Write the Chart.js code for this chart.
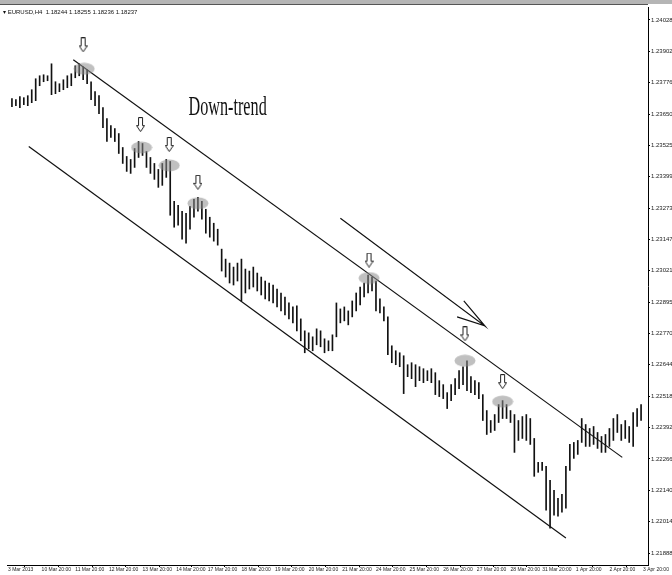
<!DOCTYPE html>
<html>
<head>
<meta charset="utf-8">
<script src="https://cdn.jsdelivr.net/npm/chart.js@4/dist/chart.umd.min.js"></script>
<style>
  html, body { margin: 0; padding: 0; background: #fff; }
  #wrap { width: 672px; height: 575px; }
</style>
</head>
<body>
<div id="wrap"><canvas id="chart" width="672" height="575"></canvas></div>
<script>
// H4 bars, high / low per bar (price)
const highs = [
  1.23712,1.23708,1.23720,1.23716,1.23724,1.23748,1.23792,1.23804,1.23808,1.23804,
  1.23852,1.23780,1.23772,1.23788,1.23804,1.23812,1.23844,1.23852,1.23840,1.23828,
  1.23780,1.23740,1.23724,1.23676,1.23632,1.23604,1.23592,1.23572,1.23516,1.23480,
  1.23468,1.23512,1.23540,1.23532,1.23500,1.23476,1.23452,1.23428,1.23452,1.23468,
  1.23460,1.23300,1.23284,1.23260,1.23252,1.23280,1.23308,1.23316,1.23300,1.23268,
  1.23236,1.23212,1.23188,1.23108,1.23068,1.23052,1.23036,1.23052,1.23068,1.23028,
  1.23020,1.23036,1.23012,1.22996,1.22980,1.22972,1.22964,1.22948,1.22932,1.22916,
  1.22892,1.22876,1.22880,1.22828,1.22780,1.22772,1.22756,1.22788,1.22780,1.22748,
  1.22740,1.22764,1.22892,1.22868,1.22876,1.22860,1.22900,1.22932,1.22956,1.22972,
  1.23004,1.22996,1.22980,1.22908,1.22876,1.22836,1.22720,1.22700,1.22692,1.22680,
  1.22644,1.22652,1.22644,1.22636,1.22628,1.22620,1.22628,1.22612,1.22580,1.22564,
  1.22532,1.22564,1.22588,1.22620,1.22636,1.22660,1.22596,1.22580,1.22572,1.22524,
  1.22460,1.22420,1.22444,1.22484,1.22500,1.22484,1.22460,1.22444,1.22420,1.22436,
  1.22444,1.22428,1.22348,1.22252,1.22252,1.22236,1.22180,1.22140,1.22108,1.22124,
  1.22236,1.22324,1.22332,1.22340,1.22428,1.22404,1.22388,1.22396,1.22372,1.22356,
  1.22364,1.22388,1.22428,1.22444,1.22404,1.22420,1.22396,1.22452,1.22468,1.22484
];
const lows = [
  1.23680,1.23684,1.23676,1.23688,1.23684,1.23696,1.23704,1.23764,1.23780,1.23784,
  1.23728,1.23732,1.23740,1.23748,1.23756,1.23764,1.23796,1.23804,1.23788,1.23772,
  1.23708,1.23684,1.23652,1.23596,1.23540,1.23556,1.23540,1.23492,1.23452,1.23420,
  1.23412,1.23436,1.23476,1.23484,1.23436,1.23412,1.23388,1.23356,1.23364,1.23396,
  1.23244,1.23196,1.23204,1.23148,1.23132,1.23188,1.23236,1.23260,1.23228,1.23172,
  1.23156,1.23140,1.23124,1.23020,1.22996,1.22972,1.22964,1.22980,1.22900,1.22932,
  1.22948,1.22956,1.22940,1.22924,1.22908,1.22900,1.22892,1.22876,1.22860,1.22844,
  1.22828,1.22812,1.22780,1.22740,1.22692,1.22708,1.22700,1.22724,1.22716,1.22692,
  1.22700,1.22700,1.22756,1.22812,1.22820,1.22804,1.22836,1.22860,1.22884,1.22916,
  1.22932,1.22940,1.22860,1.22852,1.22820,1.22684,1.22652,1.22644,1.22636,1.22528,
  1.22596,1.22588,1.22556,1.22580,1.22572,1.22580,1.22572,1.22524,1.22516,1.22508,
  1.22468,1.22500,1.22524,1.22548,1.22564,1.22540,1.22532,1.22524,1.22508,1.22420,
  1.22364,1.22372,1.22380,1.22412,1.22428,1.22428,1.22412,1.22292,1.22340,1.22348,
  1.22340,1.22324,1.22196,1.22212,1.22220,1.22060,1.21988,1.22040,1.22036,1.22052,
  1.22068,1.22220,1.22268,1.22284,1.22332,1.22316,1.22316,1.22324,1.22308,1.22292,
  1.22292,1.22316,1.22340,1.22372,1.22340,1.22348,1.22332,1.22316,1.22396,1.22420
];

// hand-drawn trend channel and the arrow above it (bar index, price)
const upperLine = [{x: 15.5, y: 1.23868}, {x: 154.25, y: 1.22272}];
const lowerLine = [{x: 4.25, y: 1.23520}, {x: 140, y: 1.21948}];
const trendArrow = [
  {x: 83, y: 1.23232}, {x: 119.5, y: 1.22800}, {x: 114.2, y: 1.22900},
  {x: 119.5, y: 1.22800}, {x: 112.5, y: 1.22836}
];

// touches of the upper line (ellipses) and the arrows pointing at them
const touchIdx   = [18.25, 32.75, 39.75, 47, 90.25, 114.5, 124];
const touchPrice = [1.23832, 1.23516, 1.23444, 1.23292, 1.22992, 1.22660, 1.22496];
const arrowIdx   = [18, 32.5, 39.75, 47, 90.25, 114.5, 124];
const arrowPrice = [1.23928, 1.23608, 1.23528, 1.23376, 1.23064, 1.22768, 1.22576];

const noteText = 'Down-trend';
const notePos = {x: 54.5, y: 1.23676};
const headerText = '\u25BE EURUSD,H4  1.18244 1.18255 1.18236 1.18237';

const priceTicks = [
  1.24028,1.23902,1.23776,1.23650,1.23525,1.23399,1.23273,1.23147,1.23021,
  1.22895,1.22770,1.22644,1.22518,1.22392,1.22266,1.22140,1.22014,1.21888
];
const timeTickIdx = [-1,7.5,16,24.5,33,41.5,49.5,58,66.5,75,83.5,92,100.5,109,117.5,126,134,142.5,151,159.5];
const timeLabels = [
  '3 Mar 2013','10 Mar 20:00','11 Mar 20:00','12 Mar 20:00','13 Mar 20:00',
  '14 Mar 20:00','17 Mar 20:00','18 Mar 20:00','19 Mar 20:00','20 Mar 20:00',
  '21 Mar 20:00','24 Mar 20:00','25 Mar 20:00','26 Mar 20:00','27 Mar 20:00',
  '28 Mar 20:00','31 Mar 20:00','1 Apr 20:00','2 Apr 20:00','3 Apr 20:00'
];

// marker images
function makeEllipse(){
  const c = document.createElement('canvas'); c.width = 22; c.height = 13;
  const g = c.getContext('2d');
  g.fillStyle = 'rgba(140,140,140,0.55)';
  g.beginPath(); g.ellipse(11, 6.5, 10.5, 6, 0, 0, Math.PI*2); g.fill();
  return c;
}
function makeArrow(){
  const c = document.createElement('canvas'); c.width = 9; c.height = 15;
  const g = c.getContext('2d');
  g.beginPath();
  g.moveTo(2.5,0.5); g.lineTo(6.5,0.5); g.lineTo(6.5,8.5); g.lineTo(8.5,8.5);
  g.lineTo(4.5,14.5); g.lineTo(0.5,8.5); g.lineTo(2.5,8.5); g.closePath();
  g.fillStyle = '#fff'; g.fill();
  g.strokeStyle = '#222'; g.lineWidth = 1; g.stroke();
  return c;
}

const decor = {
  id: 'decor',
  beforeDraw(chart){
    const c = chart.ctx;
    c.save();
    c.fillStyle = '#b5b5b5'; c.fillRect(0, 0, 672, 4);
    c.fillStyle = '#555'; c.fillRect(0, 4, chart.chartArea.right, 1);
    c.restore();
  },
  afterDatasetsDraw(chart){
    const c = chart.ctx, xs = chart.scales.x, ys = chart.scales.y;
    c.save();
    c.fillStyle = '#111';
    c.font = '6px "Liberation Sans"';
    c.textBaseline = 'middle';
    c.fillText(headerText, 3, 12);
    const px = xs.getPixelForValue(notePos.x), py = ys.getPixelForValue(notePos.y);
    c.translate(px, py); c.scale(0.6, 1);
    c.font = '27px "Liberation Serif"';
    c.textAlign = 'center';
    c.fillText(noteText, 0, 0);
    c.restore();
  }
};

const lineStyle = {type: 'line', borderColor: '#111', borderWidth: 1.2, pointRadius: 0, tension: 0, fill: false};

new Chart(document.getElementById('chart'), {
  data: {
    datasets: [
      {type: 'scatter', data: touchIdx.map((x,i)=>({x, y: touchPrice[i]})), pointStyle: makeEllipse(), pointRadius: 6, order: 0},
      {type: 'scatter', data: arrowIdx.map((x,i)=>({x, y: arrowPrice[i]})), pointStyle: makeArrow(), pointRadius: 6, order: 0},
      {...lineStyle, data: upperLine, order: 1},
      {...lineStyle, data: lowerLine, order: 1},
      {...lineStyle, data: trendArrow, order: 1},
      {type: 'bar', data: highs.map((h,i)=>({x: i, y: [lows[i], h]})), backgroundColor: '#111',
       barThickness: 1, grouped: false, order: 2}
    ]
  },
  options: {
    responsive: false,
    animation: false,
    layout: {padding: {top: 5, left: 0, right: 0, bottom: 0}},
    plugins: {legend: {display: false}, tooltip: {enabled: false}},
    scales: {
      x: {
        type: 'linear', min: -1.25, max: 160.75, offset: false,
        grid: {drawOnChartArea: false, drawTicks: true, tickLength: 2, color: '#000'},
        border: {display: true, color: '#000', width: 1},
        afterBuildTicks: s => { s.ticks = timeTickIdx.map(v => ({value: v})); },
        afterFit: s => { s.height = 10; },
        ticks: {
          autoSkip: false, maxRotation: 0, align: 'start', padding: 0,
          color: '#222', font: {family: 'Liberation Sans', size: 5},
          callback: (v, i) => timeLabels[i]
        }
      },
      y: {
        position: 'right', min: 1.2184, max: 1.2408,
        grid: {drawOnChartArea: false, drawTicks: true, tickLength: 2, color: '#000'},
        border: {display: true, color: '#000', width: 1},
        afterBuildTicks: s => { s.ticks = priceTicks.map(v => ({value: v})); },
        afterFit: s => { s.width = 24; },
        ticks: {
          autoSkip: false, padding: 1,
          color: '#222', font: {family: 'Liberation Sans', size: 6},
          callback: v => v.toFixed(5)
        }
      }
    }
  },
  plugins: [decor]
});
</script>
</body>
</html>
